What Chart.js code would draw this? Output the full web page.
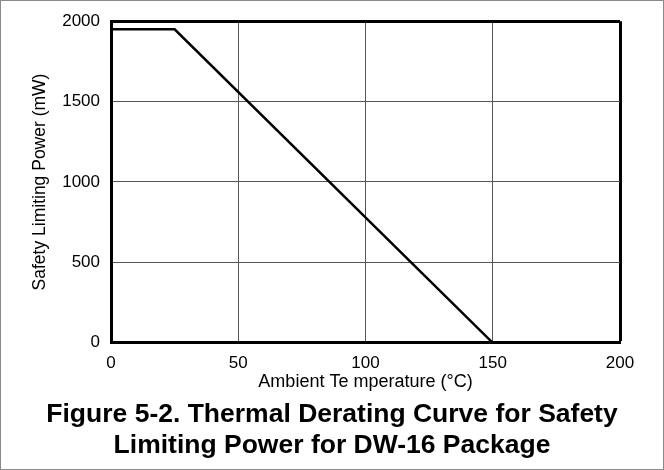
<!DOCTYPE html>
<html>
<head>
<meta charset="utf-8">
<script src="https://cdn.jsdelivr.net/npm/chart.js@4"></script>
<style>
  body { margin: 0; background: #fff; }
  #wrap { position: relative; width: 664px; height: 470px; }
  #wrap::after {
    content: ''; position: absolute; left: 0; top: 0; right: 0; bottom: 0;
    border: 1px solid #8a8a8a; pointer-events: none;
  }
</style>
</head>
<body>
<div id="wrap"><canvas id="chart" width="664" height="470"></canvas></div>
<script>
// temperature (°C) vs safety limiting power (mW)
var temperature = [0, 25, 150];
var power = [1950, 1950, 0];
var xTicks = [0, 50, 100, 150, 200];
var yTicks = [0, 500, 1000, 1500, 2000];

Chart.defaults.font.family = '"Liberation Sans", Arial, sans-serif';
Chart.defaults.color = '#000';

var points = temperature.map(function (t, i) {
  return { x: t, y: power[i] };
});

new Chart(document.getElementById('chart'), {
  type: 'line',
  data: {
    datasets: [{
      data: points,
      borderColor: '#000',
      borderWidth: 2.5,
      pointRadius: 0,
      tension: 0,
      fill: false
    }]
  },
  options: {
    responsive: false,
    animation: false,
    layout: { padding: { left: 44, right: 44, top: 20, bottom: 0 } },
    plugins: {
      legend: { display: false },
      tooltip: { enabled: false },
      title: {
        display: true,
        position: 'bottom',
        text: ['Figure 5-2. Thermal Derating Curve for Safety', 'Limiting Power for DW-16 Package'],
        color: '#000',
        font: { size: 26.5, weight: 'bold', lineHeight: 1.17 },
        padding: { top: 2.7, bottom: 8.5 }
      }
    },
    scales: {
      x: {
        type: 'linear',
        min: xTicks[0],
        max: xTicks[xTicks.length - 1],
        afterBuildTicks: function (scale) {
          scale.ticks = xTicks.map(function (v) { return { value: v }; });
        },
        afterFit: function (scale) { scale.height = 54; },
        ticks: {
          font: { size: 17 }, padding: 10, maxRotation: 0,
          callback: function (v) { return String(v); }
        },
        grid: {
          drawTicks: false,
          color: function (ctx) { return ctx.tick && ctx.tick.value === 200 ? '#000' : '#555'; },
          lineWidth: function (ctx) { return ctx.tick && ctx.tick.value === 200 ? 3 : 1; }
        },
        border: { color: '#000', width: 3 },
        title: {
          display: true,
          text: 'Ambient Te mperature (°C)',
          font: { size: 18 },
          padding: { top: 0, bottom: 4 }
        }
      },
      y: {
        min: yTicks[0],
        max: yTicks[yTicks.length - 1],
        afterBuildTicks: function (scale) {
          scale.ticks = yTicks.map(function (v) { return { value: v }; });
        },
        afterFit: function (scale) { scale.width = 67; },
        ticks: {
          font: { size: 17 }, padding: 11,
          callback: function (v) { return String(v); }
        },
        grid: {
          drawTicks: false,
          color: function (ctx) { return ctx.tick && ctx.tick.value === 2000 ? '#000' : '#555'; },
          lineWidth: function (ctx) { return ctx.tick && ctx.tick.value === 2000 ? 3 : 1; }
        },
        border: { color: '#000', width: 3 },
        title: {
          display: true,
          text: 'Safety Limiting Power (mW)',
          font: { size: 17.5 },
          padding: { top: -14.5, bottom: 0 }
        }
      }
    }
  }
});
</script>
</body>
</html>
